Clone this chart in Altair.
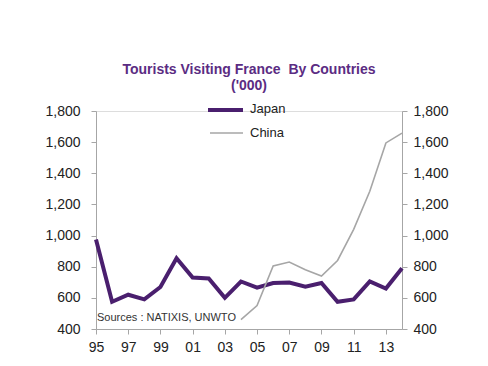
import altair as alt
import pandas as pd

years = list(range(1995, 2015))
japan = [975, 575, 620, 590, 670, 855, 730, 725, 600, 705, 665, 695, 698, 672, 695, 575, 590, 705, 660, 790]
china_years = list(range(2004, 2015))
china = [460, 550, 805, 830, 780, 740, 840, 1040, 1285, 1595, 1658]
tick_years = [1995, 1997, 1999, 2001, 2003, 2005, 2007, 2009, 2011, 2013]
y_ticks = [400, 600, 800, 1000, 1200, 1400, 1600, 1800]

df_j = pd.DataFrame({"year": years, "value": japan})
df_c = pd.DataFrame({"year": china_years, "value": china})

FONT = "Liberation Sans"
AX = "#A6A6A6"

xaxis = alt.Axis(values=tick_years, labelExpr="slice(format(datum.value,'d'),2)",
                 title=None, grid=False, domainColor=AX, tickColor=AX, tickSize=5,
                 labelPadding=6, labelFont=FONT, labelFontSize=14, labelColor="#222",
                 labelFlush=False, labelOverlap=False, labelBound=False)
xscale = alt.Scale(domain=[1995, 2014], nice=False, zero=False)
yscale = alt.Scale(domain=[400, 1800], nice=False, zero=False)

jl = alt.Chart(df_j).mark_line(color="#4A1F6E", strokeWidth=4, strokeJoin="miter").encode(
    x=alt.X("year:Q", scale=xscale, axis=xaxis),
    y=alt.Y("value:Q", scale=yscale,
            axis=alt.Axis(values=y_ticks, format=",d", title=None, grid=False, orient="left",
                          domainColor=AX, tickColor=AX, tickSize=5, labelPadding=11,
                          labelFont=FONT, labelFontSize=14, labelColor="#222",
                          labelOverlap=False)))

cl = alt.Chart(df_c).mark_line(color="#A6A6A6", strokeWidth=1.6).encode(
    x=alt.X("year:Q", scale=xscale, axis=xaxis),
    y=alt.Y("value:Q", scale=yscale,
            axis=alt.Axis(values=y_ticks, format=",d", title=None, grid=False, orient="right",
                          domainColor=AX, tickColor=AX, tickSize=5, labelPadding=6,
                          labelFont=FONT, labelFontSize=14, labelColor="#222",
                          labelOverlap=False)))

base = alt.Chart(pd.DataFrame({"a": [0]}))
leg_j = base.mark_rule(color="#4A1F6E", strokeWidth=4).encode(
    x=alt.value(112), x2=alt.value(147), y=alt.value(-1))
leg_c = base.mark_rule(color="#A6A6A6", strokeWidth=1.6).encode(
    x=alt.value(114), x2=alt.value(147), y=alt.value(22))
txt_j = base.mark_text(align="left", baseline="middle", font=FONT, fontSize=13, color="#222").encode(
    x=alt.value(154), y=alt.value(-2), text=alt.value("Japan"))
txt_c = base.mark_text(align="left", baseline="middle", font=FONT, fontSize=13, color="#222").encode(
    x=alt.value(154), y=alt.value(22), text=alt.value("China"))
src = base.mark_text(align="left", baseline="middle", font=FONT, fontSize=11, color="#333").encode(
    x=alt.value(1), y=alt.value(207), text=alt.value("Sources : NATIXIS, UNWTO"))

chart = alt.layer(jl, cl, leg_j, leg_c, txt_j, txt_c, src).resolve_scale(y="independent").properties(
    width=306, height=218,
    padding={"left": 88, "top": 103, "right": 78, "bottom": 29},
    autosize=alt.AutoSizeParams(type="none"),
    title=alt.TitleParams(["Tourists Visiting France\u00a0 By Countries", "('000)"],
                          font=FONT, fontSize=14, fontWeight="bold", color="#5B2C83",
                          anchor="middle", offset=10, lineHeight=16),
).configure_view(stroke=None).configure(background="white")

chart.save("out.html", embed_options={"renderer": "svg", "actions": False})
